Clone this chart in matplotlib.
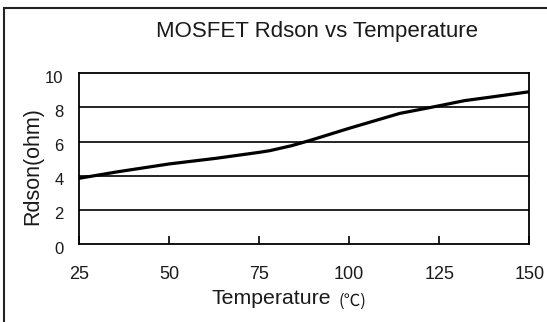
import matplotlib
matplotlib.use('Agg')
import matplotlib.pyplot as plt
import matplotlib.transforms as mtrans
from matplotlib.patches import Rectangle

plt.rcParams['font.family'] = ['Liberation Sans', 'DejaVu Sans']

# curve
temps = [25, 36, 50, 63, 75, 78, 84, 89, 100, 114, 125, 132, 138, 150]
rdson = [3.85, 4.24, 4.69, 5.02, 5.37, 5.47, 5.76, 6.06, 6.78, 7.65, 8.1, 8.4, 8.57, 8.92]

xticks = [25, 50, 75, 100, 125, 150]
yticks = [0, 2, 4, 6, 8, 10]

fig = plt.figure(figsize=(5.47, 3.22), dpi=100)

# outer frame of the original figure (cut off on the right / bottom)
fig.patches.append(Rectangle((4 / 547, -0.1), 1.2, 1 - 8 / 322 + 0.1,
                             transform=fig.transFigure, fill=False,
                             edgecolor='#222222', linewidth=1.5))

ax = fig.add_axes([0.1444, 0.2422, 0.8233, 0.5301])
ax.plot(temps, rdson, color='black', linewidth=2.3, solid_capstyle='round')

ax.set_xlim(25, 150)
ax.set_ylim(0, 10)
ax.set_xticks(xticks)
ax.set_yticks(yticks)
ax.set_xticklabels([str(t) for t in xticks], fontsize=13, color='#1a1a1a')
ax.set_yticklabels([str(t) for t in yticks], fontsize=12, color='#1a1a1a')

for y in yticks[1:-1]:
    ax.axhline(y, color='black', linewidth=1.2)

for s in ax.spines.values():
    s.set_linewidth(1.3)
    s.set_color('black')

ax.tick_params(axis='x', direction='in', length=6, width=1.2, pad=15.5)
ax.tick_params(axis='y', length=0, pad=11)

# labels on the y axis sit a little below their grid lines
off = mtrans.ScaledTranslation(0, -3.5 / 100, fig.dpi_scale_trans)
for lab in ax.get_yticklabels():
    lab.set_transform(lab.get_transform() + off)

fig.text(317 / 547, 1 - 31 / 322, 'MOSFET Rdson vs Temperature', ha='center', va='center',
         fontsize=16, color='#1a1a1a')
fig.text(33 / 547, 1 - 166 / 322, 'Rdson(ohm)', rotation=90, ha='center', va='center',
         fontsize=15.5, color='#1a1a1a')
fig.text(271 / 547, 1 - 298.5 / 322, 'Temperature', ha='center', va='center',
         fontsize=15.3, color='#1a1a1a')
fig.text(352.5 / 547, 1 - 301 / 322, '(℃)', ha='center', va='center',
         fontsize=12, color='#1a1a1a', family=['Noto Sans CJK SC', 'DejaVu Sans'])

fig.savefig('out.png', dpi=100)
